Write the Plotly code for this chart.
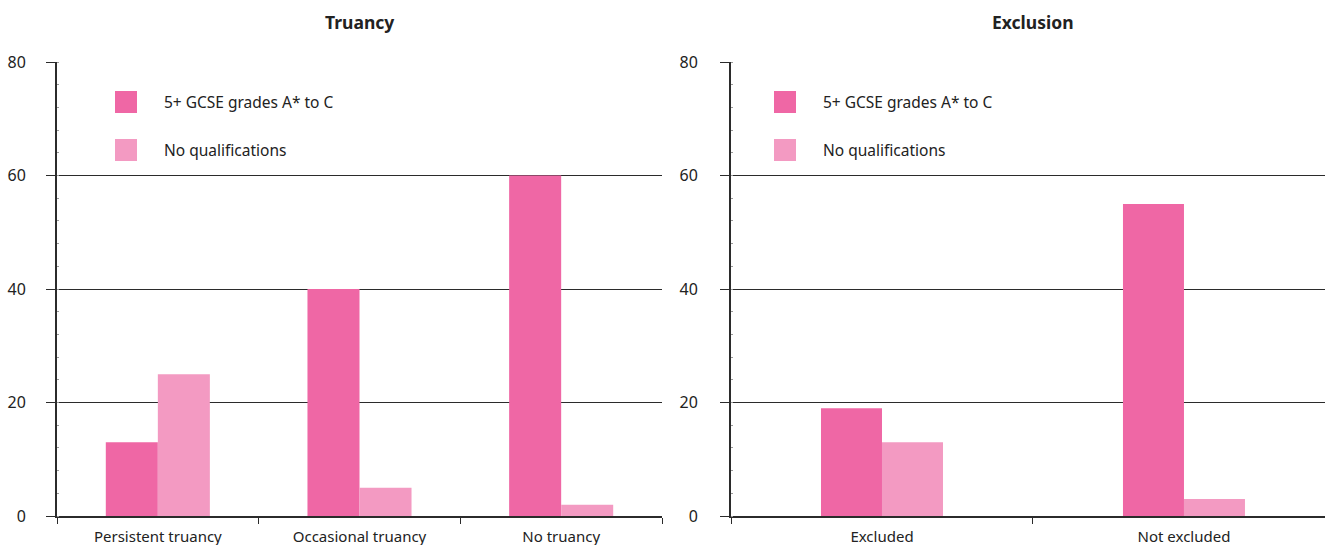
import plotly.graph_objects as go

# Data
truancy_cats = ["Persistent truancy", "Occasional truancy", "No truancy"]
truancy_gcse = [13, 40, 60]
truancy_noqual = [25, 5, 2]

exclusion_cats = ["Excluded", "Not excluded"]
exclusion_gcse = [19, 55]
exclusion_noqual = [13, 3]

series_names = ["5+ GCSE grades A* to C", "No qualifications"]
panel_titles = ["Truancy", "Exclusion"]
y_ticks = [0, 20, 40, 60, 80]

# Styling
W, H = 1325, 545
DARK_PINK = "#EF67A5"
LIGHT_PINK = "#F39AC2"
AXIS_COL = "#2b2b2b"
TEXT_COL = "#222222"
FONT = "Noto Sans"


def px_x(px):
    return px / W


def px_y(py):
    return 1 - py / H


fig = go.Figure()

# Truancy panel bars
w1 = 0.258
fig.add_trace(go.Bar(x=truancy_cats, y=truancy_gcse, name=series_names[0],
                     marker=dict(color=DARK_PINK, line=dict(width=0)),
                     width=w1, offset=-w1, xaxis="x", yaxis="y", showlegend=False))
fig.add_trace(go.Bar(x=truancy_cats, y=truancy_noqual, name=series_names[1],
                     marker=dict(color=LIGHT_PINK, line=dict(width=0)),
                     width=w1, offset=0, xaxis="x", yaxis="y", showlegend=False))

# Exclusion panel bars
w2 = 0.202
fig.add_trace(go.Bar(x=exclusion_cats, y=exclusion_gcse, name=series_names[0],
                     marker=dict(color=DARK_PINK, line=dict(width=0)),
                     width=w2, offset=-w2, xaxis="x2", yaxis="y2", showlegend=False))
fig.add_trace(go.Bar(x=exclusion_cats, y=exclusion_noqual, name=series_names[1],
                     marker=dict(color=LIGHT_PINK, line=dict(width=0)),
                     width=w2, offset=0, xaxis="x2", yaxis="y2", showlegend=False))

y_dom = [px_y(516), px_y(62)]
x1_dom = [px_x(57), px_x(662)]
x2_dom = [px_x(731), 1.0]

xaxis_common = dict(
    type="category", showgrid=False, zeroline=False, automargin=False,
    showline=True, linecolor=AXIS_COL, linewidth=2,
    ticks="outside", ticklen=6, tickcolor=AXIS_COL, tickwidth=1,
    tickson="boundaries", ticklabelstandoff=6,
    tickfont=dict(family=FONT, size=15, color=TEXT_COL),
    fixedrange=True,
)
yaxis_common = dict(
    range=[0, 80], tickvals=y_ticks, showgrid=True, gridcolor=AXIS_COL, gridwidth=1.2,
    zeroline=False, showline=True, linecolor=AXIS_COL, linewidth=2, automargin=False,
    ticks="outside", ticklen=9, tickcolor=AXIS_COL, tickwidth=1.2,
    minor=dict(dtick=4, ticks="inside", ticklen=2, tickcolor="#999999", showgrid=False),
    tickfont=dict(family=FONT, size=16, color=TEXT_COL),
    fixedrange=True,
)

fig.update_layout(
    width=W, height=H,
    margin=dict(l=0, r=0, t=0, b=0, autoexpand=False),
    paper_bgcolor="white", plot_bgcolor="white",
    barmode="overlay",
    xaxis=dict(xaxis_common, domain=x1_dom, anchor="y", range=[-0.5, 2.5]),
    yaxis=dict(yaxis_common, domain=y_dom, anchor="x", ticklabelstandoff=17),
    xaxis2=dict(xaxis_common, domain=x2_dom, anchor="y2", range=[-0.5, 1.467]),
    yaxis2=dict(yaxis_common, domain=y_dom, anchor="x2", ticklabelstandoff=19),
    showlegend=False,
)

# Panel titles
for title, dom in zip(panel_titles, [x1_dom, [px_x(731), px_x(1335)]]):
    fig.add_annotation(text=f"<b>{title}</b>", xref="paper", yref="paper",
                       x=(dom[0] + dom[1]) / 2, y=px_y(22), showarrow=False,
                       xanchor="center", yanchor="middle",
                       font=dict(family=FONT, size=17.5, color=TEXT_COL))

# Legend keys for each panel
for key_x in [115, 774]:
    for i, (name, col) in enumerate(zip(series_names, [DARK_PINK, LIGHT_PINK])):
        top = 91 + 48 * i
        fig.add_shape(type="rect", xref="paper", yref="paper",
                      x0=px_x(key_x), x1=px_x(key_x + 22),
                      y0=px_y(top + 22), y1=px_y(top),
                      fillcolor=col, line=dict(width=0))
        fig.add_annotation(text=name, xref="paper", yref="paper",
                           x=px_x(key_x + 47), y=px_y(top + 11), showarrow=False,
                           xanchor="left", yanchor="middle",
                           font=dict(family=FONT, size=15.5, color=TEXT_COL))

fig.write_html("out.html")
